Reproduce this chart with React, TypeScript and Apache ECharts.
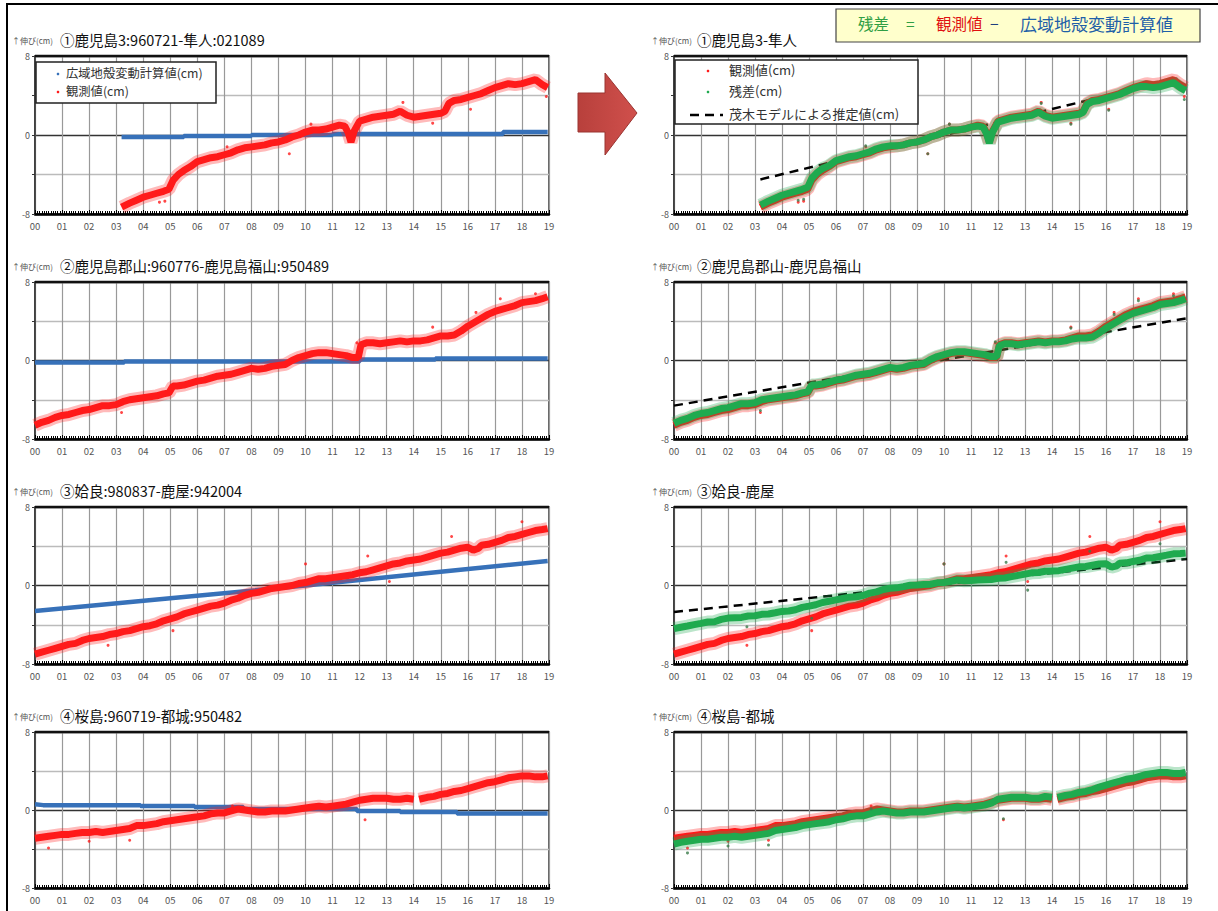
import React, { useEffect, useRef } from "react";
import * as echarts from "echarts";

type P = [number, number | null];

// ---------- tick labels ----------
const xTickLabels = ["00","01","02","03","04","05","06","07","08","09","10","11","12","13","14","15","16","17","18","19"];
const yTickLabels: Record<string, string> = { "8": "8", "0": "0", "-8": "-8" };

// ---------- titles ----------
const leftTitles = [
  "①鹿児島3:960721-隼人:021089",
  "②鹿児島郡山:960776-鹿児島福山:950489",
  "③姶良:980837-鹿屋:942004",
  "④桜島:960719-都城:950482",
];
const rightTitles = ["①鹿児島3-隼人", "②鹿児島郡山-鹿児島福山", "③姶良-鹿屋", "④桜島-都城"];
const unitLabel = "↑伸び(cm)";
const legendLeft = ["広域地殻変動計算値(cm)", "観測値(cm)"];
const legendRight = ["観測値(cm)", "残差(cm)", "茂木モデルによる推定値(cm)"];
const formulaParts = ["残差", "=", "観測値", "−", "広域地殻変動計算値"];

// ---------- observed baseline changes (cm) ----------
const obs1: P[] = [
  [2003.2,-7.3],[2003.5,-6.9],[2003.75,-6.6],[2004.0,-6.3],[2004.25,-6.1],[2004.5,-5.9],[2004.75,-5.7],[2004.95,-5.5],
  [2005.1,-4.6],[2005.3,-4.0],[2005.5,-3.6],[2005.75,-3.2],[2006.0,-2.7],[2006.25,-2.5],[2006.5,-2.3],[2006.75,-2.2],
  [2007.0,-2.0],[2007.25,-1.8],[2007.5,-1.5],[2007.75,-1.3],[2008.0,-1.2],[2008.25,-1.1],[2008.5,-1.0],[2008.75,-0.8],
  [2009.0,-0.7],[2009.25,-0.5],[2009.5,-0.2],[2009.75,0.0],[2010.0,0.3],[2010.25,0.5],[2010.5,0.5],[2010.75,0.6],
  [2011.0,0.8],[2011.25,1.0],[2011.45,0.9],[2011.58,0.2],[2011.68,-0.7],[2011.8,0.4],[2012.0,1.4],[2012.25,1.6],
  [2012.5,1.8],[2012.75,1.9],[2013.0,2.0],[2013.25,2.1],[2013.5,2.4],[2013.75,2.0],[2014.0,1.8],[2014.25,1.9],
  [2014.5,2.0],[2014.75,2.1],[2015.0,2.2],[2015.15,2.4],[2015.3,3.2],[2015.5,3.5],[2015.75,3.6],[2016.0,3.8],
  [2016.25,4.0],[2016.5,4.2],[2016.75,4.5],[2017.0,4.8],[2017.25,5.0],[2017.5,5.2],[2017.75,5.1],[2018.0,5.2],
  [2018.25,5.4],[2018.5,5.6],[2018.75,5.1],[2018.95,4.8],
];
const obs2: P[] = [
  [2000.0,-6.6],[2000.25,-6.3],[2000.5,-6.1],[2000.75,-5.8],[2001.0,-5.6],[2001.25,-5.5],[2001.5,-5.3],[2001.75,-5.1],
  [2002.0,-5.0],[2002.25,-4.8],[2002.5,-4.6],[2002.75,-4.6],[2003.0,-4.5],[2003.25,-4.2],[2003.5,-4.0],[2003.75,-3.9],
  [2004.0,-3.8],[2004.25,-3.7],[2004.5,-3.6],[2004.75,-3.4],[2004.95,-3.3],[2005.1,-2.6],[2005.25,-2.6],[2005.5,-2.5],
  [2005.75,-2.3],[2006.0,-2.1],[2006.25,-2.0],[2006.5,-1.8],[2006.75,-1.6],[2007.0,-1.5],[2007.25,-1.4],[2007.5,-1.2],
  [2007.75,-1.0],[2008.0,-0.8],[2008.25,-0.9],[2008.5,-0.8],[2008.75,-0.6],[2009.0,-0.5],[2009.25,-0.4],[2009.5,0.0],
  [2009.75,0.3],[2010.0,0.5],[2010.25,0.7],[2010.5,0.8],[2010.75,0.8],[2011.0,0.7],[2011.25,0.6],[2011.5,0.5],
  [2011.75,0.3],[2011.95,0.3],[2012.05,1.6],[2012.25,1.8],[2012.5,1.8],[2012.75,1.7],[2013.0,1.8],[2013.25,1.9],
  [2013.5,2.0],[2013.75,1.9],[2014.0,2.0],[2014.25,2.0],[2014.5,2.1],[2014.75,2.3],[2015.0,2.5],[2015.25,2.5],
  [2015.5,2.6],[2015.75,3.0],[2016.0,3.5],[2016.25,3.9],[2016.5,4.3],[2016.75,4.7],[2017.0,5.0],[2017.25,5.2],
  [2017.5,5.4],[2017.75,5.6],[2018.0,5.9],[2018.25,6.0],[2018.5,6.1],[2018.75,6.3],[2018.95,6.5],
];
const obs3: P[] = [
  [2000.0,-7.0],[2000.25,-6.8],[2000.5,-6.6],[2000.75,-6.4],[2001.0,-6.2],[2001.25,-6.0],[2001.5,-5.9],[2001.75,-5.6],
  [2002.0,-5.4],[2002.25,-5.3],[2002.5,-5.2],[2002.75,-5.0],[2003.0,-4.9],[2003.25,-4.7],[2003.5,-4.6],[2003.75,-4.4],
  [2004.0,-4.2],[2004.25,-4.1],[2004.5,-3.9],[2004.75,-3.6],[2005.0,-3.4],[2005.25,-3.2],[2005.5,-2.9],[2005.75,-2.7],
  [2006.0,-2.5],[2006.25,-2.3],[2006.5,-2.1],[2006.75,-2.0],[2007.0,-1.8],[2007.25,-1.5],[2007.5,-1.3],[2007.75,-1.0],
  [2008.0,-0.8],[2008.25,-0.7],[2008.5,-0.5],[2008.75,-0.3],[2009.0,-0.2],[2009.25,-0.1],[2009.5,0.0],[2009.75,0.2],
  [2010.0,0.3],[2010.25,0.5],[2010.5,0.7],[2010.75,0.7],[2011.0,0.8],[2011.25,0.9],[2011.5,1.0],[2011.75,1.1],
  [2012.0,1.3],[2012.25,1.4],[2012.5,1.6],[2012.75,1.8],[2013.0,2.0],[2013.25,2.2],[2013.5,2.3],[2013.75,2.5],
  [2014.0,2.6],[2014.25,2.7],[2014.5,2.9],[2014.75,3.1],[2015.0,3.3],[2015.25,3.4],[2015.5,3.6],[2015.75,3.8],
  [2016.0,3.9],[2016.2,3.6],[2016.4,3.8],[2016.5,4.1],[2016.75,4.2],[2017.0,4.4],[2017.25,4.6],[2017.5,4.9],
  [2017.75,5.0],[2018.0,5.2],[2018.25,5.4],[2018.5,5.6],[2018.75,5.7],[2018.95,5.8],
];
const obs4: P[] = [
  [2000.0,-2.9],[2000.25,-2.8],[2000.5,-2.7],[2000.75,-2.6],[2001.0,-2.5],[2001.25,-2.5],[2001.5,-2.4],[2001.75,-2.3],
  [2002.0,-2.3],[2002.25,-2.2],[2002.5,-2.3],[2002.75,-2.2],[2003.0,-2.1],[2003.25,-2.0],[2003.5,-1.9],[2003.75,-1.6],
  [2004.0,-1.6],[2004.25,-1.5],[2004.5,-1.4],[2004.75,-1.2],[2005.0,-1.1],[2005.25,-1.0],[2005.5,-0.9],[2005.75,-0.8],
  [2006.0,-0.7],[2006.25,-0.6],[2006.5,-0.4],[2006.75,-0.3],[2007.0,-0.3],[2007.25,-0.1],[2007.5,0.1],[2007.75,0.0],
  [2008.0,-0.1],[2008.25,-0.2],[2008.5,-0.2],[2008.75,-0.1],[2009.0,-0.1],[2009.25,-0.1],[2009.5,0.0],[2009.75,0.1],
  [2010.0,0.2],[2010.25,0.3],[2010.5,0.4],[2010.75,0.3],[2011.0,0.4],[2011.25,0.5],[2011.5,0.6],[2011.75,0.8],
  [2012.0,1.0],[2012.25,1.1],[2012.5,1.2],[2012.75,1.2],[2013.0,1.2],[2013.25,1.1],[2013.5,1.1],[2013.75,1.2],
  [2014.0,1.1],[2014.1,null],[2014.2,1.1],[2014.5,1.3],[2014.75,1.4],[2015.0,1.6],[2015.25,1.7],[2015.5,1.9],
  [2015.75,2.0],[2016.0,2.2],[2016.25,2.4],[2016.5,2.6],[2016.75,2.8],[2017.0,2.9],[2017.25,3.1],[2017.5,3.3],
  [2017.75,3.4],[2018.0,3.5],[2018.25,3.5],[2018.5,3.4],[2018.75,3.4],[2018.95,3.5],
];

// ---------- scattered outlier observations (cm) ----------
const out1: P[] = [[2004.6,-6.8],[2004.8,-6.7],[2007.1,-1.2],[2009.4,-1.9],[2010.2,1.1],[2013.6,3.3],[2014.7,1.2],[2016.1,2.6],[2018.9,3.9]];
const out2: P[] = [[2003.2,-5.3],[2011.9,1.8],[2014.7,3.4],[2016.3,4.9],[2017.2,6.3],[2018.5,6.8]];
const out3: P[] = [[2002.7,-6.1],[2005.1,-4.6],[2010.0,2.2],[2012.3,3.0],[2013.1,0.4],[2015.4,5.0],[2018.0,6.5]];
const out4: P[] = [[2000.5,-3.9],[2002.0,-3.2],[2003.5,-3.1],[2007.3,0.4],[2012.2,-1.0]];

// ---------- wide-area crustal deformation calculation (cm) ----------
const calc1: P[] = [[2003.2,-0.2],[2005.5,-0.2],[2005.5,-0.1],[2008,-0.1],[2008,0.0],[2011,0.0],[2011,0.1],[2017.3,0.1],[2017.3,0.3],[2018.95,0.3]];
const calc2: P[] = [[2000,-0.2],[2003.3,-0.2],[2003.3,-0.1],[2012,-0.1],[2012,0.1],[2014.8,0.1],[2014.8,0.2],[2018.95,0.2]];
const calc3: P[] = [[2000,-2.6],[2005,-1.3],[2010,0.0],[2015,1.4],[2018.95,2.5]];
const calc4: P[] = [[2000,0.6],[2000.3,0.5],[2003.9,0.5],[2003.9,0.4],[2005.9,0.4],[2005.9,0.3],[2007.7,0.3],[2007.7,0.1],[2011.9,0.1],[2011.9,-0.1],[2013.5,-0.1],[2013.5,-0.2],[2015.6,-0.2],[2015.6,-0.35],[2018.95,-0.35]];

// ---------- Mogi model estimate (cm) ----------
const model1: P[] = [[2003.2,-4.5],[2018.8,5.8]];
const model2: P[] = [[2000,-4.6],[2019,4.3]];
const model3: P[] = [[2000,-2.7],[2019,2.7]];

const obsList = [obs1, obs2, obs3, obs4];
const outList = [out1, out2, out3, out4];
const calcList = [calc1, calc2, calc3, calc4];
const modelList: (P[] | null)[] = [model1, model2, model3, null];

// residual = observed - calculated (definition shown in the chart)
function calcAt(c: P[], t: number): number {
  if (t <= c[0][0]) return c[0][1] as number;
  for (let k = 1; k < c.length; k++) {
    if (t <= c[k][0]) {
      const [t0, v0] = c[k - 1];
      const [t1, v1] = c[k];
      if (t1 === t0) return v1 as number;
      return (v0 as number) + ((v1 as number) - (v0 as number)) * (t - t0) / (t1 - t0);
    }
  }
  return c[c.length - 1][1] as number;
}
function residual(o: P[], c: P[]): P[] {
  return o.map(([t, v]) => [t, v === null ? null : Math.round((v - calcAt(c, t)) * 100) / 100]);
}

const RED = "#ff1a1a";
const BLUE = "#3771b9";
const GREEN = "#1faa4f";
const FONT = "'Noto Sans CJK JP', 'Noto Sans', sans-serif";

function toData(d: P[]) {
  return d.map(([t, v]) => [t, v === null ? "-" : v]);
}

export default function App() {
  const ref = useRef<HTMLDivElement>(null);
  useEffect(() => {
    document.body.style.margin = "0";
    if (!ref.current) return;
    const chart = echarts.init(ref.current, null, { renderer: "svg" });

    const colLeft = [35, 674];
    const colWidth = [514, 513];
    const rowTop = [56, 282, 507, 732];
    const rowH = [158, 157, 157, 156];

    const grids: any[] = [];
    const xAxes: any[] = [];
    const yAxes: any[] = [];
    const series: any[] = [];
    const graphics: any[] = [];

    const bandSeries = (idx: number, data: P[], color: string, z: number) => [
      {
        type: "line", xAxisIndex: idx, yAxisIndex: idx, data: toData(data), showSymbol: false,
        lineStyle: { color, width: 13, opacity: 0.3 }, z, silent: true, connectNulls: false,
      },
      {
        type: "line", xAxisIndex: idx, yAxisIndex: idx, data: toData(data), showSymbol: false,
        lineStyle: { color, width: 7 }, z: z + 0.1, silent: true, connectNulls: false,
      },
    ];
    const dotSeries = (idx: number, data: P[], color: string, z: number) => ({
      type: "scatter", xAxisIndex: idx, yAxisIndex: idx, data: toData(data), symbolSize: 3,
      itemStyle: { color }, z, silent: true,
    });

    for (let col = 0; col < 2; col++) {
      for (let row = 0; row < 4; row++) {
        const idx = col * 4 + row;
        grids.push({
          left: colLeft[col], top: rowTop[row], width: colWidth[col], height: rowH[row],
          show: true, borderColor: "#333", borderWidth: 1.5, backgroundColor: "#fff",
        });
        xAxes.push({
          type: "value", gridIndex: idx, min: 2000, max: 2019, interval: 1,
          axisLine: { show: true, onZero: false, lineStyle: { color: "#000", width: 2.5 } },
          axisTick: { show: true, inside: true, length: 4, lineStyle: { color: "#000" } },
          minorTick: { show: true, splitNumber: 12, length: 3, lineStyle: { color: "#000" } },
          axisLabel: {
            show: true, fontSize: 9.5, color: "#555", margin: 7, fontFamily: FONT,
            showMinLabel: true, showMaxLabel: true,
            formatter: (v: number) => xTickLabels[Math.round(v - 2000)] ?? "",
          },
          splitLine: { show: true, lineStyle: { color: "#999", width: 1.2 } },
        });
        yAxes.push({
          type: "value", gridIndex: idx, min: -8, max: 8, interval: 4,
          axisLine: { show: true, lineStyle: { color: "#333", width: 1.5 } },
          axisTick: { show: true, length: 3, lineStyle: { color: "#333" } },
          axisLabel: {
            fontSize: 9, color: "#555", margin: 5, fontFamily: FONT,
            formatter: (v: number) => yTickLabels[String(v)] ?? "",
          },
          splitLine: { show: true, lineStyle: { color: ["#333", "#bbb", "#333", "#bbb", "#333"], width: 1.3 } },
        });

        const obs = obsList[row];
        const out = outList[row];
        const calc = calcList[row];
        if (col === 0) {
          series.push({
            type: "line", xAxisIndex: idx, yAxisIndex: idx, data: toData(calc), showSymbol: false,
            lineStyle: { color: BLUE, width: 4.5 }, z: 2, silent: true,
          });
          series.push(...bandSeries(idx, obs, RED, 3));
          series.push(dotSeries(idx, out, RED, 3.5));
        } else {
          const model = modelList[row];
          if (model) {
            series.push({
              type: "line", xAxisIndex: idx, yAxisIndex: idx, data: toData(model), showSymbol: false,
              lineStyle: { color: "#000", width: 2.5, type: [9, 6] }, z: 2, silent: true,
            });
          }
          series.push(...bandSeries(idx, obs, RED, 3));
          series.push(dotSeries(idx, out, RED, 3.5));
          series.push(...bandSeries(idx, residual(obs, calc), GREEN, 4));
          series.push(dotSeries(idx, residual(out, calc), "#3a7a4a", 4.5));
        }

        // thicker top frame edge
        graphics.push({
          type: "line", z: 30,
          shape: { x1: colLeft[col], y1: rowTop[row], x2: colLeft[col] + colWidth[col], y2: rowTop[row] },
          style: { stroke: "#111", lineWidth: 2.5 },
        });

        // titles
        const titleY = rowTop[row] - 15;
        const unitX = col === 0 ? 12 : 651;
        const titleX = col === 0 ? 60 : 697;
        graphics.push({
          type: "text", left: unitX, top: titleY - 5,
          style: { text: unitLabel, fontSize: 8, fill: "#555", fontFamily: FONT },
        });
        graphics.push({
          type: "text", left: titleX, top: titleY - 9,
          style: { text: col === 0 ? leftTitles[row] : rightTitles[row], fontSize: 14.5, fill: "#111", fontFamily: FONT },
        });
      }
    }

    // left legend (panel 1)
    graphics.push({
      type: "rect", shape: { x: 36, y: 62, width: 180, height: 41 },
      style: { fill: "#fff", stroke: "#222", lineWidth: 1.5 }, z: 50,
    });
    graphics.push({ type: "circle", shape: { cx: 58, cy: 74, r: 1.3 }, style: { fill: BLUE }, z: 51 });
    graphics.push({ type: "circle", shape: { cx: 58, cy: 92, r: 1.3 }, style: { fill: RED }, z: 51 });
    graphics.push({
      type: "text", left: 66, top: 67, z: 51,
      style: { text: legendLeft[0], fontSize: 12.3, fill: "#333", fontFamily: FONT },
    });
    graphics.push({
      type: "text", left: 66, top: 85, z: 51,
      style: { text: legendLeft[1], fontSize: 12.3, fill: "#333", fontFamily: FONT },
    });

    // right legend (panel 1)
    graphics.push({
      type: "rect", shape: { x: 675, y: 60, width: 243, height: 64 },
      style: { fill: "#fff", stroke: "#222", lineWidth: 1.5 }, z: 50,
    });
    graphics.push({ type: "circle", shape: { cx: 708, cy: 71, r: 1.3 }, style: { fill: RED }, z: 51 });
    graphics.push({ type: "circle", shape: { cx: 708, cy: 92, r: 1.3 }, style: { fill: GREEN }, z: 51 });
    graphics.push({
      type: "line", shape: { x1: 690, y1: 115, x2: 723, y2: 115 },
      style: { stroke: "#000", lineWidth: 2.5, lineDash: [9, 6] }, z: 51,
    });
    graphics.push({
      type: "text", left: 729, top: 63, z: 51,
      style: { text: legendRight[0], fontSize: 13, fill: "#333", fontFamily: FONT },
    });
    graphics.push({
      type: "text", left: 729, top: 84, z: 51,
      style: { text: legendRight[1], fontSize: 13, fill: "#333", fontFamily: FONT },
    });
    graphics.push({
      type: "text", left: 729, top: 107, z: 51,
      style: { text: legendRight[2], fontSize: 13, fill: "#333", fontFamily: FONT },
    });

    // formula box
    graphics.push({
      type: "rect", shape: { x: 836, y: 9, width: 364, height: 33 },
      style: { fill: "#ffffcc", stroke: "#444", lineWidth: 1.2 }, z: 60,
    });
    const fx = [858, 906, 936, 990, 1020];
    const fc = ["#2f9e44", "#2f9e44", "#e01010", "#1f3f7f", "#1f5fa8"];
    const fs = [15.5, 15.5, 15.5, 15.5, 17];
    formulaParts.forEach((txt, i) => {
      graphics.push({
        type: "text", left: fx[i], top: 25 - fs[i] * 0.6, z: 61,
        style: { text: txt, fontSize: fs[i], fill: fc[i], fontFamily: FONT },
      });
    });

    // arrow
    graphics.push({
      type: "polygon",
      shape: { points: [[578, 93], [605, 93], [605, 73], [637, 113], [605, 155], [605, 132], [578, 132]] },
      style: {
        fill: new echarts.graphic.LinearGradient(0, 0, 1, 0, [
          { offset: 0, color: "#b8403c" }, { offset: 1, color: "#d0504c" },
        ]),
        stroke: "#9a3431", lineWidth: 1,
      },
      z: 40,
    });

    // outer frame
    graphics.push({
      type: "polyline", shape: { points: [[7, 911], [7, 4], [1218, 4]] },
      style: { stroke: "#000", lineWidth: 2, fill: null }, z: 70,
    });

    chart.setOption({
      animation: false,
      backgroundColor: "#fff",
      grid: grids,
      xAxis: xAxes,
      yAxis: yAxes,
      series,
      graphic: graphics,
    });
    return () => chart.dispose();
  }, []);
  return <div ref={ref} style={{ width: 1218, height: 911, overflow: "hidden" }} />;
}
